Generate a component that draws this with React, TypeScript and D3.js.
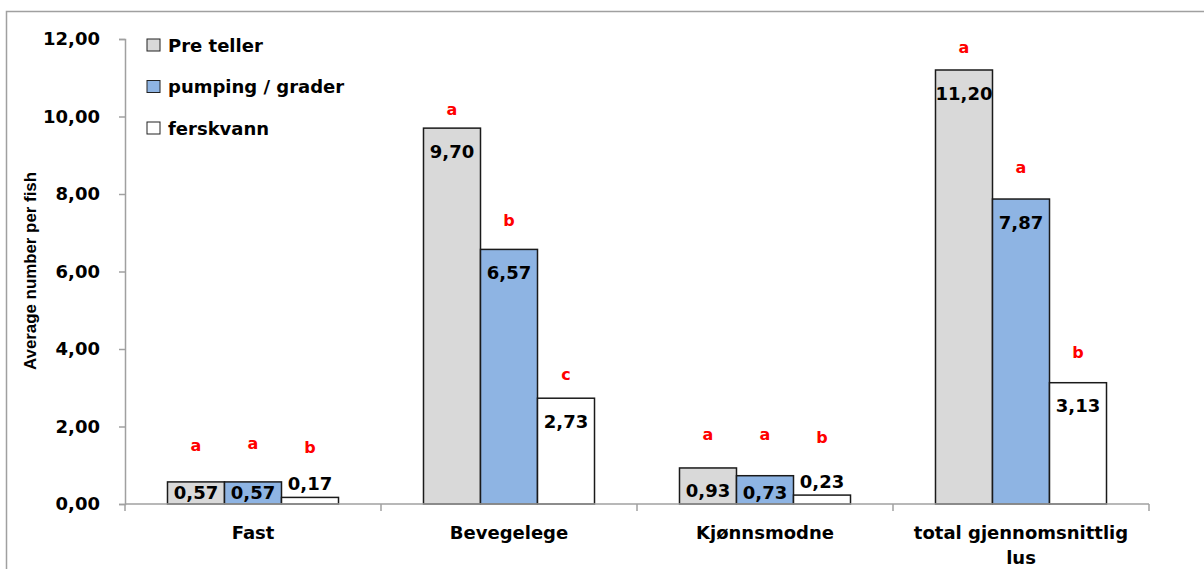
import React, {useEffect, useRef} from "react";
import * as d3 from "d3";

const categories = ["Fast", "Bevegelege", "Kjønnsmodne", "total gjennomsnittlig lus"];
const series = ["Pre teller", "pumping / grader", "ferskvann"];
const preTeller = [0.57, 9.70, 0.93, 11.20];
const pumping = [0.57, 6.57, 0.73, 7.87];
const ferskvann = [0.17, 2.73, 0.23, 3.13];
// significance letters and the height (in axis units) where each one sits
const letters = [["a", "a", "b"], ["a", "b", "c"], ["a", "a", "b"], ["a", "a", "b"]];
const letterHeights = [[1.37, 1.42, 1.32], [10.04, 7.17, 3.2], [1.65, 1.65, 1.57], [11.64, 8.54, 3.77]];
const yTicks = [0, 2, 4, 6, 8, 10, 12];

const colors = ["#d9d9d9", "#8eb4e3", "#ffffff"];
const font = "'DejaVu Sans', Verdana, sans-serif";

const App = () => {
    const svgRef = useRef(null);

    useEffect(() => {
        const svg = d3.select(svgRef.current);
        svg.selectAll("*").remove();

        const values = [preTeller, pumping, ferskvann];
        const left = 125, right = 1149, top = 39, bottom = 504;

        const x = d3.scaleBand().domain(categories).range([left, right]).paddingInner(0.332).paddingOuter(0.166);
        const xs = d3.scaleBand().domain(series).range([0, x.bandwidth()]);
        const y = d3.scaleLinear().domain([0, 12]).range([bottom, top]);

        // outer chart border
        svg.append("rect").attr("x", 6.5).attr("y", 11.5).attr("width", 1300).attr("height", 700)
            .attr("fill", "none").attr("stroke", "#a0a0a0").attr("stroke-width", 1.5);

        // y axis
        const yAxis = d3.axisLeft(y).tickValues(yTicks).tickSize(6).tickPadding(19)
            .tickFormat(d => d3.format(".2f")(d as number).replace(".", ","));
        const gy = svg.append("g").attr("transform", `translate(${left},0)`).call(yAxis);
        gy.select(".domain").attr("stroke", "#a0a0a0").attr("stroke-width", 1.5);
        gy.selectAll(".tick line").attr("stroke", "#a0a0a0").attr("stroke-width", 1.5);
        gy.selectAll(".tick text").attr("font-family", font).attr("font-weight", "bold")
            .attr("font-size", 18).attr("fill", "#000");

        // bars
        series.forEach((s, si) => {
            svg.append("g").selectAll("rect").data(values[si]).join("rect")
                .attr("x", (d, i) => x(categories[i])! + xs(s)!)
                .attr("y", d => y(d))
                .attr("width", xs.bandwidth())
                .attr("height", d => y(0) - y(d))
                .attr("fill", colors[si])
                .attr("stroke", "#1a1a1a")
                .attr("stroke-width", 1.5);
        });

        // x axis (drawn over the bar bottoms)
        svg.append("line").attr("x1", left).attr("x2", right).attr("y1", bottom).attr("y2", bottom)
            .attr("stroke", "#a0a0a0").attr("stroke-width", 1.5);
        const edges = categories.map(c => x(c)! - x.step() * x.paddingInner() / 2).concat([right]);
        svg.append("g").selectAll("line").data(edges).join("line")
            .attr("x1", d => d).attr("x2", d => d).attr("y1", bottom).attr("y2", bottom + 7)
            .attr("stroke", "#a0a0a0").attr("stroke-width", 1.5);

        // category labels
        const catLines = categories.map(c => c === "total gjennomsnittlig lus" ? ["total gjennomsnittlig", "lus"] : [c]);
        catLines.forEach((lines, i) => {
            const t = svg.append("text").attr("x", x(categories[i])! + x.bandwidth() / 2).attr("y", 539)
                .attr("text-anchor", "middle").attr("font-family", font).attr("font-weight", "bold")
                .attr("font-size", 18).attr("fill", "#000");
            lines.forEach((l, li) => t.append("tspan").attr("x", x(categories[i])! + x.bandwidth() / 2)
                .attr("dy", li === 0 ? 0 : 25).text(l));
        });

        // value labels
        series.forEach((s, si) => {
            svg.append("g").selectAll("text").data(values[si]).join("text")
                .attr("x", (d, i) => x(categories[i])! + xs(s)! + xs.bandwidth() / 2)
                .attr("y", d => (si === 2 && d < 0.5) ? y(d) - 7 : Math.min(y(d) + 29.5, 499))
                .attr("text-anchor", "middle").attr("font-family", font).attr("font-weight", "bold")
                .attr("font-size", 18).attr("fill", "#000")
                .text(d => d3.format(".2f")(d).replace(".", ","));
        });

        // significance letters
        categories.forEach((c, ci) => {
            series.forEach((s, si) => {
                svg.append("text").attr("x", x(c)! + xs(s)! + xs.bandwidth() / 2)
                    .attr("y", y(letterHeights[ci][si]))
                    .attr("text-anchor", "middle").attr("font-family", font).attr("font-weight", "bold")
                    .attr("font-size", 16).attr("fill", "#ff0000").text(letters[ci][si]);
            });
        });

        // legend
        const legend = svg.append("g").attr("transform", "translate(147,45)");
        series.forEach((s, si) => {
            const row = legend.append("g").attr("transform", `translate(0,${si * 41.5})`);
            row.append("rect").attr("x", 0).attr("y", -6).attr("width", 13).attr("height", 12)
                .attr("fill", colors[si]).attr("stroke", "#222").attr("stroke-width", 1);
            row.append("text").attr("x", 21).attr("y", 6.5).attr("font-family", font).attr("font-weight", "bold")
                .attr("font-size", 18).attr("fill", "#000").text(s);
        });

        // y axis title
        svg.append("text").attr("transform", "translate(36,271) rotate(-90)")
            .attr("text-anchor", "middle").attr("font-family", "'Liberation Sans', Arial, sans-serif")
            .attr("font-weight", "bold").attr("font-size", 17).attr("fill", "#000")
            .attr("textLength", 198).attr("lengthAdjust", "spacingAndGlyphs")
            .text("Average number per fish");
    }, []);

    return (
        <svg ref={svgRef} width={1204} height={569}
             style={{position: "absolute", left: 0, top: 0, background: "#fff"}}/>
    );
};

export default App;
